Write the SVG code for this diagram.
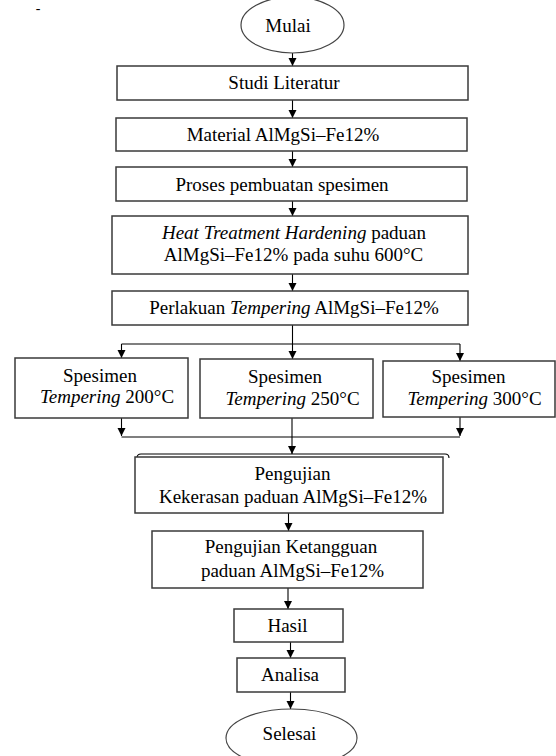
<svg xmlns="http://www.w3.org/2000/svg" width="556" height="756" viewBox="0 0 556 756">
<style>
.bx{fill:#fff;stroke:#3a3a3a;stroke-width:1.5}
.el{fill:#fff;stroke:#444;stroke-width:1.2}
.ln{fill:none;stroke:#000;stroke-width:1.1}
.t{font-family:"Liberation Serif","Times New Roman",serif;font-size:19px;fill:#000;text-anchor:middle}
.i{font-style:italic}
</style>
<defs>
<marker id="ah" markerUnits="userSpaceOnUse" markerWidth="9" markerHeight="9" refX="8" refY="4" orient="auto">
<path d="M0,0 L8,4 L0,8 z" fill="#000"/>
</marker>
</defs>
<rect width="556" height="756" fill="#fff"/>
<text x="38" y="13" class="t" style="font-size:14px">-</text>
<g id="connectors">
<path class="ln" d="M292.5,53 V66" marker-end="url(#ah)"/>
<path class="ln" d="M292.5,100 V118" marker-end="url(#ah)"/>
<path class="ln" d="M292.5,151 V167" marker-end="url(#ah)"/>
<path class="ln" d="M292.5,201 V216" marker-end="url(#ah)"/>
<path class="ln" d="M292.5,274 V291" marker-end="url(#ah)"/>
<path class="ln" d="M292.5,325 V359" marker-end="url(#ah)"/>
<path class="ln" d="M121.5,344 H460"/>
<path class="ln" d="M121.5,344 V358" marker-end="url(#ah)"/>
<path class="ln" d="M460,344 V361" marker-end="url(#ah)"/>
<path class="ln" d="M121.5,418 V436" marker-end="url(#ah)"/>
<path class="ln" d="M460,417 V436" marker-end="url(#ah)"/>
<path class="ln" d="M121.5,437 H460"/>
<path class="ln" d="M292,418 V454" marker-end="url(#ah)"/>
<path class="ln" d="M137,458 Q137,454 141,454 H445 Q449,454 449,458"/>
<path class="ln" d="M288.5,513 V531" marker-end="url(#ah)"/>
<path class="ln" d="M288,588 V609" marker-end="url(#ah)"/>
<path class="ln" d="M290.5,642 V658" marker-end="url(#ah)"/>
<path class="ln" d="M290.5,692 V709" marker-end="url(#ah)"/>
</g>
<g id="mulai">
<ellipse class="el" cx="292.5" cy="25" rx="51.5" ry="28"/>
<text class="t" x="288" y="32">Mulai</text>
</g>
<g id="studi">
<rect class="bx" x="117" y="66" width="351" height="34"/>
<text class="t" x="284" y="89">Studi Literatur</text>
</g>
<g id="material">
<rect class="bx" x="116" y="118" width="351" height="33"/>
<text class="t" x="283" y="141">Material AlMgSi–Fe12%</text>
</g>
<g id="proses">
<rect class="bx" x="116" y="167" width="351" height="34"/>
<text class="t" x="282" y="191">Proses pembuatan spesimen</text>
</g>
<g id="heat">
<rect class="bx" x="112" y="216" width="356" height="58"/>
<text class="t" x="294" y="239"><tspan class="i">Heat Treatment Hardening</tspan> paduan</text>
<text class="t" x="293.5" y="261">AlMgSi–Fe12% pada suhu 600°C</text>
</g>
<g id="perlakuan">
<rect class="bx" x="112" y="291" width="356" height="34"/>
<text class="t" x="294" y="314">Perlakuan <tspan class="i">Tempering</tspan> AlMgSi–Fe12%</text>
</g>
<g id="spesimen200">
<rect class="bx" x="15" y="358" width="173" height="60"/>
<text class="t" x="100" y="382">Spesimen</text>
<text class="t" x="107" y="403"><tspan class="i">Tempering</tspan> 200°C</text>
</g>
<g id="spesimen250">
<rect class="bx" x="200" y="359" width="173" height="59"/>
<text class="t" x="285" y="383">Spesimen</text>
<text class="t" x="292.5" y="405"><tspan class="i">Tempering</tspan> 250°C</text>
</g>
<g id="spesimen300">
<rect class="bx" x="383" y="361" width="172" height="56"/>
<text class="t" x="468.5" y="383">Spesimen</text>
<text class="t" x="474.5" y="405"><tspan class="i">Tempering</tspan> 300°C</text>
</g>
<g id="kekerasan">
<rect class="bx" x="135" y="457" width="308" height="56"/>
<text class="t" x="292.5" y="480">Pengujian</text>
<text class="t" x="293" y="503">Kekerasan paduan AlMgSi–Fe12%</text>
</g>
<g id="ketangguan">
<rect class="bx" x="152" y="531" width="271" height="57"/>
<text class="t" x="291" y="553">Pengujian Ketangguan</text>
<text class="t" x="292.5" y="577">paduan AlMgSi–Fe12%</text>
</g>
<g id="hasil">
<rect class="bx" x="234" y="609" width="109" height="33"/>
<text class="t" x="287.5" y="632">Hasil</text>
</g>
<g id="analisa">
<rect class="bx" x="237" y="658" width="108" height="34"/>
<text class="t" x="290" y="681">Analisa</text>
</g>
<g id="selesai">
<ellipse class="el" cx="291.5" cy="738" rx="65.5" ry="29"/>
<text class="t" x="289.5" y="740">Selesai</text>
</g>
</svg>
